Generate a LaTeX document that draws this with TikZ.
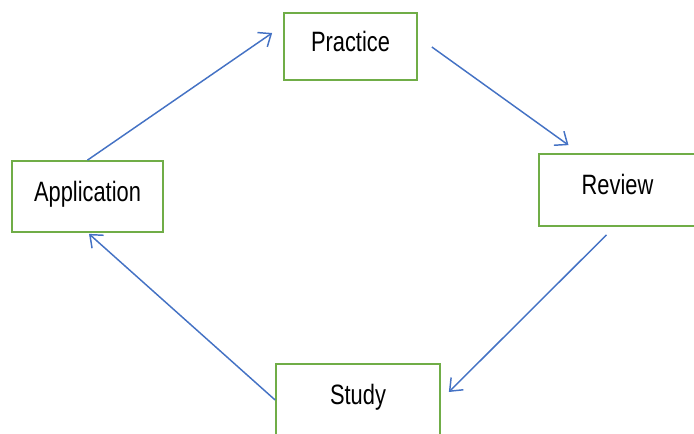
\documentclass[tikz,border=0pt]{standalone}
\usepackage{fontspec}
\newfontfamily\labfont[FakeStretch=0.78]{Liberation Sans}
\usetikzlibrary{arrows.meta,calc}
\definecolor{boxgreen}{RGB}{112,173,71}
\definecolor{arrowblue}{RGB}{68,114,196}
\tikzset{
  stagebox/.style={draw=boxgreen, line width=1.3pt, rectangle, fill=white,
    font=\labfont\fontsize{21pt}{24pt}\selectfont,
    text height=15pt, text depth=8pt, inner sep=0pt},
  flow/.style={draw=arrowblue, line width=1.1pt,
    -{Straight Barb[length=8pt,width=13pt,line width=1.1pt]}}
}
\begin{document}
\begin{tikzpicture}[x=0.75pt,y=-0.75pt]
\useasboundingbox (0,0) rectangle (694,434);
\node[stagebox, minimum width=133*0.75pt, minimum height=67*0.75pt] (practice) at (350.5,46.5) {Practice};
\node[stagebox, minimum width=157*0.75pt, minimum height=72*0.75pt] (review) at (617.5,190) {Review};
\node[stagebox, minimum width=151*0.75pt, minimum height=71*0.75pt] (application) at (87.5,196.5) {Application};
\node[stagebox, minimum width=164*0.75pt, minimum height=72*0.75pt] (study) at (358,400) {Study};
\draw[flow] (application.north) -- ($(practice.west)+(-11,-13.5)$);
\draw[flow] ($(practice.east)+(14,0.5)$) -- ($(review.north)+(-49,-8)$);
\draw[flow] ($(review.south)+(-11,8)$) -- ($(study.east)+(8,-8)$);
\draw[flow] (study.west) -- ($(application.south)+(1.5,1)$);
\end{tikzpicture}
\end{document}
